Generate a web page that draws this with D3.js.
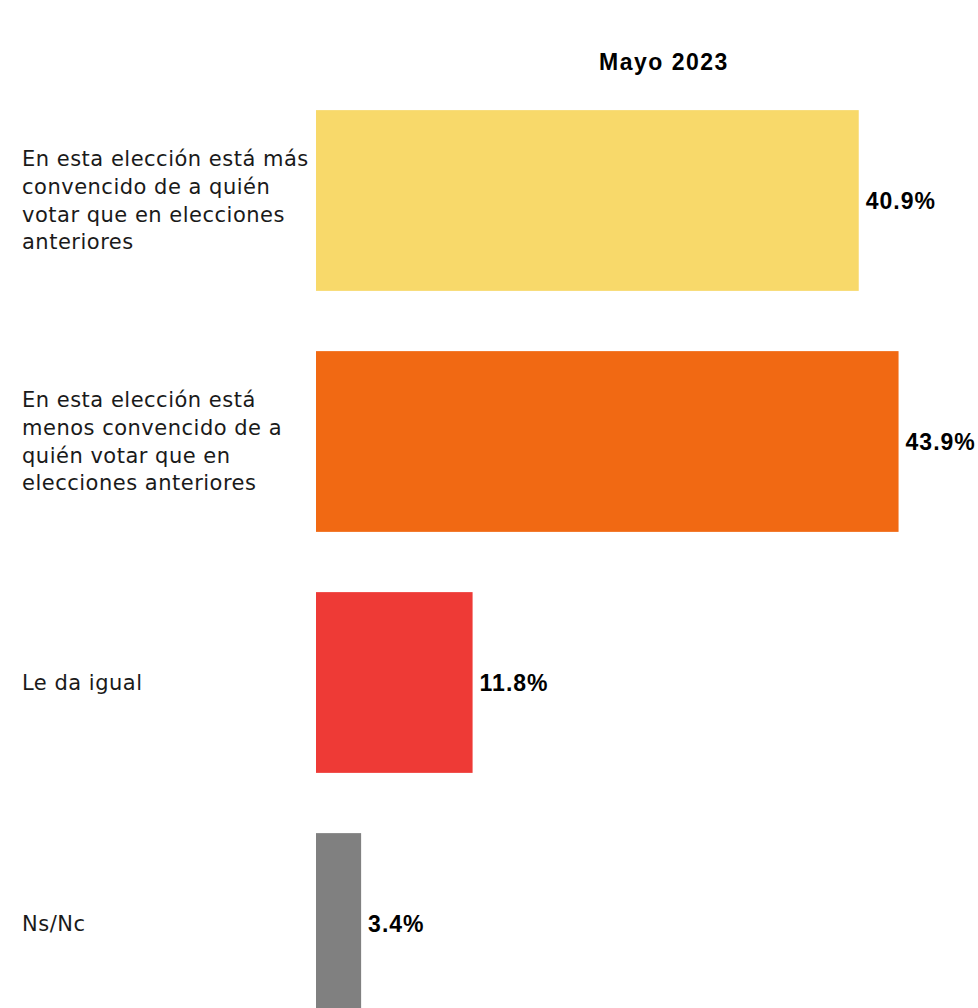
<!DOCTYPE html>
<html><head><meta charset="utf-8">
<script src="https://cdn.jsdelivr.net/npm/d3@7"></script>
<style>html,body{margin:0;padding:0;background:#fff;}</style>
</head><body>
<svg id="chart" width="978" height="1008"></svg>
<script>
const title = "Mayo 2023";
const categories = [
  "En esta elección está más\nconvencido de a quién\nvotar que en elecciones\nanteriores",
  "En esta elección está\nmenos convencido de a\nquién votar que en\nelecciones anteriores",
  "Le da igual",
  "Ns/Nc"
];
const values = [40.9, 43.9, 11.8, 3.4];
const colors = ["#F8D96A", "#F16913", "#EE3A36", "#808080"];

const svg = d3.select("#chart");
const labelFont = "'DejaVu Sans', sans-serif";
const valueFont = "'Liberation Sans', Arial, sans-serif";

const x = d3.scaleLinear().domain([0, 45]).range([316, 316 + 45 * 13.27]);
const y = d3.scaleBand().domain(categories).range([80, 1044]).paddingInner(0.25).paddingOuter(0.125);

svg.append("text")
  .attr("x", 664).attr("y", 70)
  .attr("text-anchor", "middle")
  .style("font-family", valueFont).style("font-weight", "bold").style("font-size", "23px")
  .style("letter-spacing", "1.5px")
  .attr("fill", "#000")
  .text(title);

const g = svg.append("g");
g.selectAll("rect").data(categories).join("rect")
  .attr("x", x(0))
  .attr("y", d => y(d))
  .attr("width", (d, i) => x(values[i]) - x(0))
  .attr("height", y.bandwidth())
  .attr("fill", (d, i) => colors[i]);

g.selectAll("text.val").data(categories).join("text")
  .attr("class", "val")
  .attr("x", (d, i) => x(values[i]) + 7)
  .attr("y", d => y(d) + y.bandwidth() / 2)
  .attr("dy", "0.35em")
  .style("font-family", valueFont).style("font-weight", "bold").style("font-size", "23px")
  .style("letter-spacing", "1px")
  .attr("fill", "#000")
  .text((d, i) => values[i].toFixed(1) + "%");

const lh = 27.6;
categories.forEach(c => {
  const lines = c.split("\n");
  const cy = y(c) + y.bandwidth() / 2;
  const t = g.append("text")
    .attr("x", 22)
    .style("font-family", labelFont).style("font-size", "21px")
    .style("letter-spacing", "0.5px")
    .attr("fill", "#1a1a1a");
  lines.forEach((ln, k) => {
    t.append("tspan").attr("x", 22)
      .attr("y", cy + (k - (lines.length - 1) / 2) * lh)
      .attr("dy", "0.35em")
      .text(ln);
  });
});
</script>
</body></html>
